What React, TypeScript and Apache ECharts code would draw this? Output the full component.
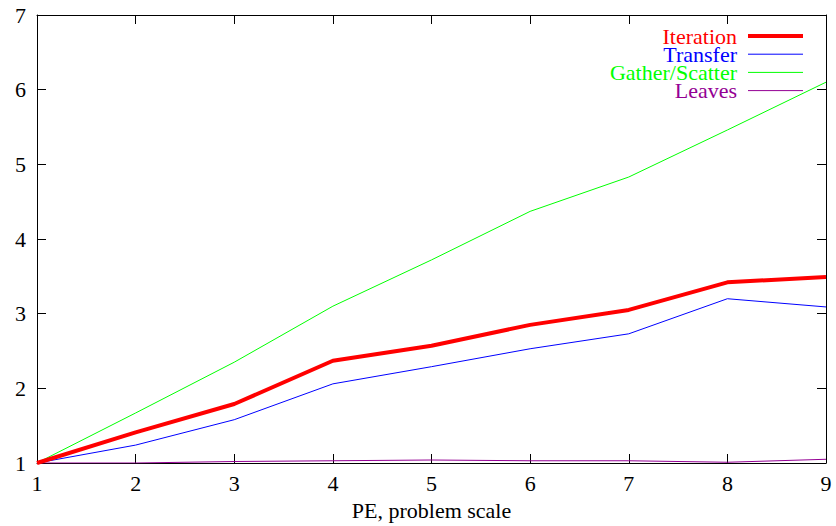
import React, { useEffect, useRef } from "react";
import * as echarts from "echarts";

const peValues = [1, 2, 3, 4, 5, 6, 7, 8, 9];
const iteration = [1.0, 1.41, 1.79, 2.37, 2.57, 2.85, 3.05, 3.42, 3.49];
const transfer = [1.0, 1.24, 1.58, 2.06, 2.29, 2.53, 2.73, 3.2, 3.09];
const gatherScatter = [1.0, 1.67, 2.35, 3.1, 3.72, 4.37, 4.83, 5.46, 6.1];
const leaves = [1.0, 1.0, 1.02, 1.03, 1.04, 1.03, 1.03, 1.01, 1.05];

const seriesNames = ["Iteration", "Transfer", "Gather/Scatter", "Leaves"];
const seriesColors = ["#ff0000", "#0000ff", "#00ff00", "#940094"];
const seriesWidths = [4, 1, 1, 1];
const seriesData = [iteration, transfer, gatherScatter, leaves];

const FONT = "Liberation Serif";

export default function App() {
  const ref = useRef<HTMLDivElement>(null);
  useEffect(() => {
    if (!ref.current) return;
    const chart = echarts.init(ref.current, null, { renderer: "svg" });
    const axisCommon = {
      type: "value" as const,
      min: 1,
      interval: 1,
      axisLine: { show: true, lineStyle: { color: "#000", width: 1 } },
      axisTick: { show: true, inside: true, length: 9, lineStyle: { color: "#000" } },
      splitLine: { show: false },
    };
    const legendGraphics: any[] = [];
    seriesNames.forEach((n, i) => {
      const cy = 36 + i * 18.2;
      legendGraphics.push({
        type: "text",
        x: 737,
        y: cy,
        style: {
          text: n,
          fill: seriesColors[i],
          fontFamily: FONT,
          fontSize: 22,
          lineHeight: 18,
          align: "right",
          verticalAlign: "middle",
        },
      });
      legendGraphics.push({
        type: "line",
        shape: { x1: 748, y1: cy, x2: 803, y2: cy },
        style: { stroke: seriesColors[i], lineWidth: seriesWidths[i] },
      });
    });
    chart.setOption({
      animation: false,
      backgroundColor: "#fff",
      textStyle: { fontFamily: FONT },
      grid: { left: 37, right: 10, top: 15, bottom: 63, containLabel: false, outerBoundsMode: "none" },
      graphic: legendGraphics,
      xAxis: [
        {
          ...axisCommon,
          max: 9,
          position: "bottom",
          name: "PE, problem scale",
          nameLocation: "middle",
          nameGap: 36,
          nameTextStyle: { fontFamily: FONT, fontSize: 22, color: "#000" },
          axisLabel: { fontFamily: FONT, fontSize: 22, color: "#000", margin: 9 },
        },
        {
          ...axisCommon,
          max: 9,
          position: "top",
          axisLabel: { show: false },
        },
      ],
      yAxis: [
        {
          ...axisCommon,
          max: 7,
          position: "left",
          axisLabel: { fontFamily: FONT, fontSize: 22, color: "#000", margin: 11 },
        },
        {
          ...axisCommon,
          max: 7,
          position: "right",
          axisLabel: { show: false },
        },
      ],
      series: seriesNames.map((n, i) => ({
        name: n,
        type: "line",
        xAxisIndex: 0,
        yAxisIndex: 0,
        symbol: "none",
        data: peValues.map((x, j) => [x, seriesData[i][j]]),
        lineStyle: { color: seriesColors[i], width: seriesWidths[i] },
        itemStyle: { color: seriesColors[i] },
        z: 10 - i,
      })),
    });
    return () => chart.dispose();
  }, []);
  return <div ref={ref} style={{ width: 836, height: 526, position: "absolute", left: 0, top: 0 }} />;
}
